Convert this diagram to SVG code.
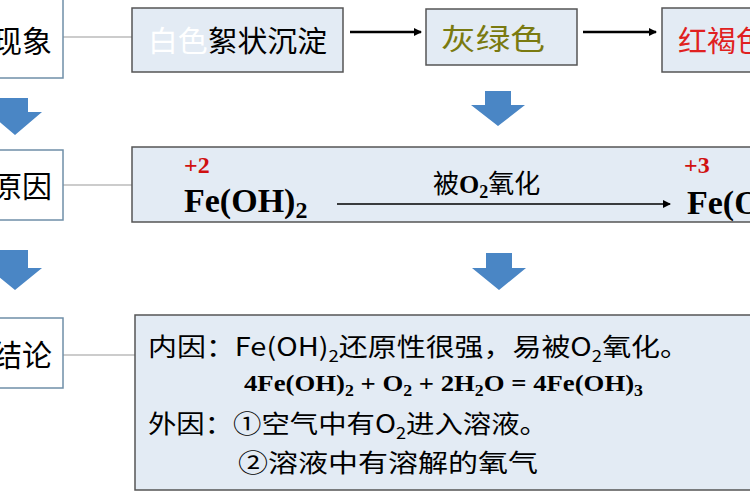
<svg xmlns="http://www.w3.org/2000/svg" width="750" height="500" viewBox="0 0 750 500">
<style>
.lb{fill:#fff;stroke:#6f8fa8;stroke-width:1.5}
.bx{fill:#e3ebf4;stroke:#555;stroke-width:1.5}
.cj{font-family:"Noto Sans CJK SC",sans-serif}
.tm{font-family:"Liberation Serif",serif;font-weight:bold}
.ba{fill:#4a86c5}
</style>
<defs><marker id="ah" markerWidth="8" markerHeight="8" refX="7" refY="4" orient="auto" markerUnits="userSpaceOnUse"><path d="M0,0L8,4L0,8z" fill="#000"/></marker></defs>
<rect width="750" height="500" fill="#fff"/>
<g id="connectors">
<line x1="63" y1="37" x2="132" y2="37" stroke="#ccc" stroke-width="2"/>
<line x1="63" y1="185" x2="132" y2="185" stroke="#ccc" stroke-width="2"/>
<line x1="63" y1="355" x2="135" y2="355" stroke="#ccc" stroke-width="2"/>
<line x1="350" y1="32" x2="421" y2="32" stroke="#000" stroke-width="2.5" marker-end="url(#ah)"/>
<line x1="583" y1="32" x2="656" y2="32" stroke="#000" stroke-width="2.5" marker-end="url(#ah)"/>
<path class="ba" d="M0,98H28V112H42L15,135L-12,112H0z"/>
<path class="ba" d="M0,250H28V268H42L15,290L-12,268H0z"/>
<path class="ba" d="M485,91H511V105H525L498,126L471,105H485z"/>
<path class="ba" d="M486,253H512V268H526L499,290L472,268H486z"/>
</g>
<g id="n-xianxiang"><rect class="lb" x="-5" y="-2" width="68" height="80"/><text class="cj" x="52" y="52" font-size="30" text-anchor="end">现象</text></g>
<g id="n-yuanyin"><rect class="lb" x="-5" y="150" width="68" height="70"/><text class="cj" x="52" y="197" font-size="30" text-anchor="end">原因</text></g>
<g id="n-jielun"><rect class="lb" x="-5" y="318" width="68" height="70"/><text class="cj" x="52" y="366" font-size="30" text-anchor="end">结论</text></g>
<g id="n-white"><rect class="bx" x="132" y="8" width="211" height="64"/><text class="cj" x="148" y="52" font-size="29" textLength="179" lengthAdjust="spacingAndGlyphs"><tspan fill="#fff">白色</tspan><tspan fill="#000">絮状沉淀</tspan></text></g>
<g id="n-gray"><rect class="bx" x="426" y="9" width="151" height="56"/><text class="cj" x="441" y="50" font-size="29" textLength="104" lengthAdjust="spacingAndGlyphs" fill="#7a7a10">灰绿色</text></g>
<g id="n-red"><rect class="bx" x="662" y="8" width="100" height="64"/><text class="cj" x="678" y="52" font-size="29" fill="#e02020">红褐色</text></g>
<g id="n-reason"><rect class="bx" x="132" y="147" width="630" height="75"/>
<text class="tm" x="184" y="173" font-size="24" fill="#d01010">+2</text>
<text class="tm" x="184" y="212" font-size="34">Fe(OH)<tspan font-size="24" dy="6">2</tspan></text>
<text x="433" y="193" font-size="26" class="cj">被<tspan class="tm">O</tspan><tspan class="tm" font-size="18" dy="5">2</tspan><tspan dy="-5">氧化</tspan></text>
<line x1="337" y1="204" x2="670" y2="204" stroke="#000" stroke-width="1.5" marker-end="url(#ah)"/>
<text class="tm" x="684" y="173" font-size="24" fill="#d01010">+3</text>
<text class="tm" x="687" y="214" font-size="34">Fe(OH)<tspan font-size="24" dy="6">3</tspan></text>
</g>
<g id="n-conclusion"><rect class="bx" x="135" y="315" width="627" height="175"/>
<g class="cj" font-size="25">
<text x="148" y="356" textLength="541" lengthAdjust="spacingAndGlyphs">内因：Fe(OH)<tspan font-size="16" dy="6">2</tspan><tspan dy="-6">还原性很强，易被O</tspan><tspan font-size="16" dy="6">2</tspan><tspan dy="-6">氧化。</tspan></text>
<text x="148" y="433" textLength="400" lengthAdjust="spacingAndGlyphs">外因：①空气中有O<tspan font-size="16" dy="6">2</tspan><tspan dy="-6">进入溶液。</tspan></text>
<text x="238" y="472" textLength="300" lengthAdjust="spacingAndGlyphs">②溶液中有溶解的氧气</text>
</g>
<text class="tm" x="244" y="391" font-size="24" textLength="399" lengthAdjust="spacingAndGlyphs">4Fe(OH)<tspan font-size="16" dy="5">2</tspan><tspan dy="-5"> + O</tspan><tspan font-size="16" dy="5">2</tspan><tspan dy="-5"> + 2H</tspan><tspan font-size="16" dy="5">2</tspan><tspan dy="-5">O = 4Fe(OH)</tspan><tspan font-size="16" dy="5">3</tspan></text>
</g>
</svg>
